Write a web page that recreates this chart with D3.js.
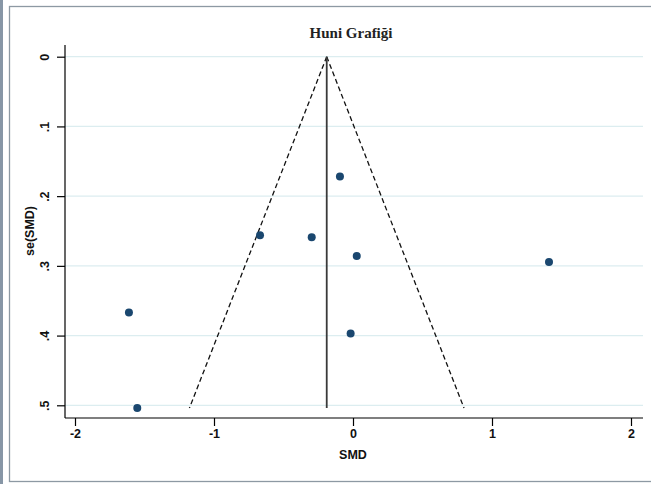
<!DOCTYPE html>
<html>
<head>
<meta charset="utf-8">
<script src="https://cdn.jsdelivr.net/npm/d3@7"></script>
<style>
  html, body { margin: 0; padding: 0; background: #fff; }
  #chart { width: 651px; height: 484px; }
  .axis text { font-family: "Liberation Sans", Arial, sans-serif; font-weight: bold; font-size: 12.5px; fill: #111; }
  .axis path, .axis line { stroke: #000; stroke-width: 1.2; }
</style>
</head>
<body>
<div id="chart"></div>
<script>
// studies: effect size and its standard error
const smd = [-0.094, -0.669, -0.297, 0.027, 1.41, -1.612, -0.017, -1.552];
const seSmd = [0.172, 0.256, 0.259, 0.286, 0.2946, 0.367, 0.397, 0.504];
const pooled = -0.189;
const xTicks = [-2, -1, 0, 1, 2];
const yTicks = [0, 0.1, 0.2, 0.3, 0.4, 0.5];

const W = 651, H = 484;
const svg = d3.select('#chart').append('svg')
    .attr('width', W)
    .attr('height', H);

// frame
svg.append('rect')
    .attr('x', 0).attr('y', 0)
    .attr('width', 3).attr('height', H)
    .attr('fill', '#8796a6');
svg.append('rect')
    .attr('x', 9.5).attr('y', 6.5)
    .attr('width', W + 10).attr('height', 475)
    .attr('fill', 'none')
    .attr('stroke', '#8d99a3')
    .attr('stroke-width', 1.3);

// plot region edges
const pLeft = 65, pRight = 643, pTop = 45, pBottom = 418;

const x = d3.scaleLinear()
    .domain([-2, 2])
    .range([75, 631]);
const y = d3.scaleLinear()
    .domain([0, 0.5])
    .range([56.7, 405.3]);

// grid
svg.append('g')
    .selectAll('line')
    .data(yTicks)
    .join('line')
    .attr('x1', pLeft).attr('x2', pRight)
    .attr('y1', d => y(d)).attr('y2', d => y(d))
    .attr('stroke', '#dcedf0')
    .attr('stroke-width', 1.3);

// axes
const yAxis = svg.append('g')
    .attr('class', 'y axis')
    .attr('transform', `translate(${pLeft},0)`)
    .call(d3.axisLeft(y).tickValues(yTicks).tickSize(8).tickSizeOuter(0)
        .tickFormat(d => d === 0 ? '0' : d3.format('.1f')(d).replace(/^0/, '')));
yAxis.select('.domain').attr('d', `M0,${pTop}V${pBottom}`);
yAxis.selectAll('.tick text')
    .attr('x', 0).attr('dy', 0)
    .attr('text-anchor', 'middle')
    .attr('dominant-baseline', 'central')
    .attr('transform', 'translate(-20,0) rotate(-90)');

const xAxis = svg.append('g')
    .attr('class', 'x axis')
    .attr('transform', `translate(0,${pBottom})`)
    .call(d3.axisBottom(x).tickValues(xTicks).tickSize(8).tickSizeOuter(0)
        .tickFormat(d => String(d)));
xAxis.select('.domain').attr('d', `M${pLeft},0H${pRight}`);
xAxis.selectAll('text').attr('y', 11);

// axis titles
svg.append('text')
    .attr('x', x(0))
    .attr('y', 459)
    .attr('text-anchor', 'middle')
    .style('font-family', '"Liberation Sans", Arial, sans-serif')
    .style('font-weight', 'bold')
    .style('font-size', '12.5px')
    .attr('fill', '#111')
    .text('SMD');
svg.append('text')
    .attr('transform', `translate(30,${(y(0) + y(0.5)) / 2}) rotate(-90)`)
    .attr('text-anchor', 'middle')
    .attr('dominant-baseline', 'central')
    .style('font-family', '"Liberation Sans", Arial, sans-serif')
    .style('font-weight', 'bold')
    .style('font-size', '12.5px')
    .attr('fill', '#111')
    .text('se(SMD)');

// title
svg.append('text')
    .attr('x', 351)
    .attr('y', 38)
    .attr('text-anchor', 'middle')
    .style('font-family', '"Liberation Serif", "DejaVu Serif", serif')
    .style('font-weight', 'bold')
    .style('font-size', '15px')
    .attr('fill', '#222')
    .text('Huni Grafiği');

// funnel: pseudo 95% limits around the pooled estimate
const seMax = d3.max(seSmd);
const funnel = [
    [[pooled, 0], [pooled - 1.96 * seMax, seMax]],
    [[pooled, 0], [pooled + 1.96 * seMax, seMax]]
];
const line = d3.line().x(d => x(d[0])).y(d => y(d[1]));
svg.append('g')
    .selectAll('path')
    .data(funnel)
    .join('path')
    .attr('d', line)
    .attr('fill', 'none')
    .attr('stroke', '#111')
    .attr('stroke-width', 1.3)
    .attr('stroke-dasharray', '5,3');

svg.append('path')
    .attr('d', line([[pooled, 0], [pooled, seMax]]))
    .attr('stroke', '#3a3a3a')
    .attr('stroke-width', 1.8);

// points
svg.append('g')
    .selectAll('circle')
    .data(smd.map((v, i) => ({v, se: seSmd[i]})))
    .join('circle')
    .attr('cx', d => x(d.v))
    .attr('cy', d => y(d.se))
    .attr('r', 4)
    .attr('fill', '#1a476f');
</script>
</body>
</html>
